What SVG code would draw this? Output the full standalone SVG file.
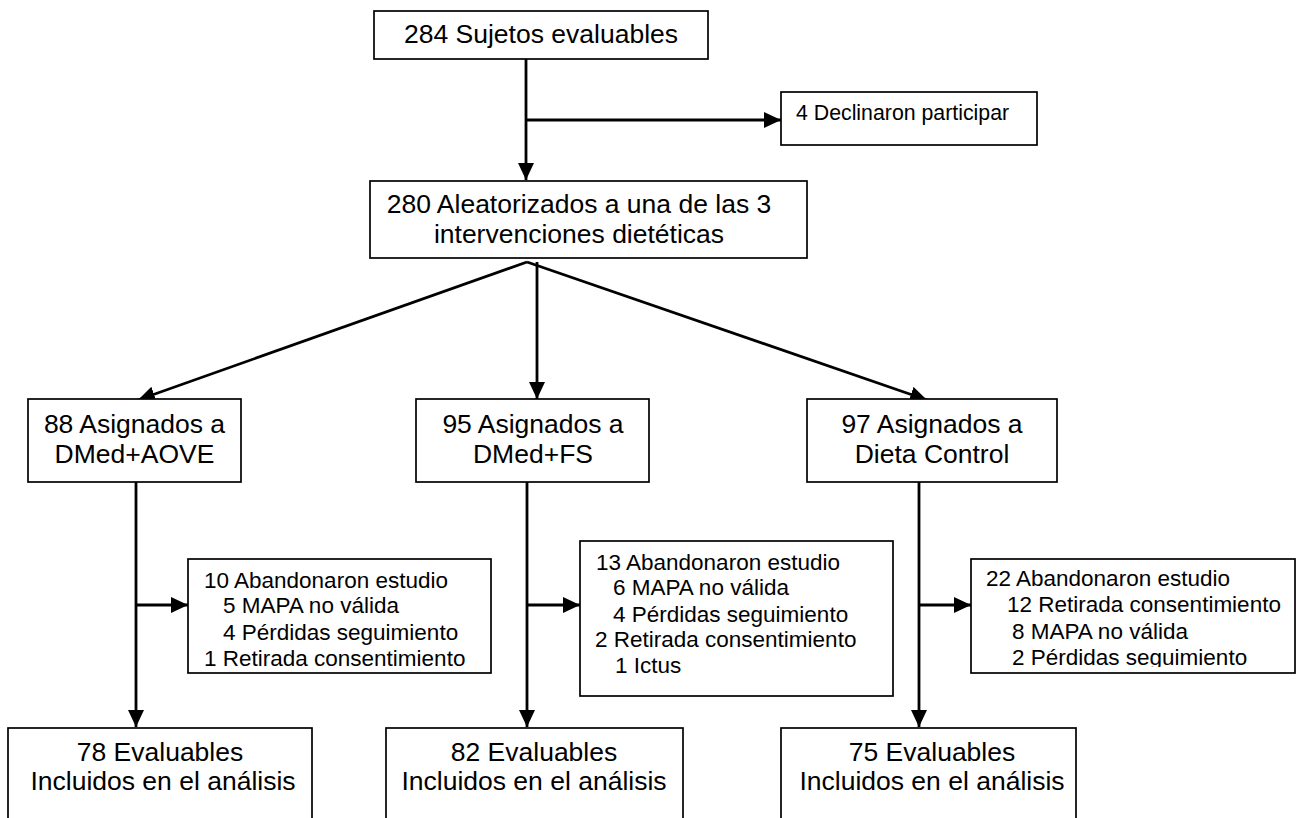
<svg xmlns="http://www.w3.org/2000/svg" width="1305" height="818" viewBox="0 0 1305 818">
<style>
.box{fill:#fff;stroke:#000;stroke-width:1.7}
.big{font-family:"Liberation Sans",Arial,sans-serif;font-size:26.5px;fill:#000;text-anchor:middle}
.mid{font-family:"Liberation Sans",Arial,sans-serif;font-size:22.5px;fill:#000}
.sm{font-family:"Liberation Sans",Arial,sans-serif;font-size:21.3px;fill:#000}
.ln{fill:none;stroke:#000;stroke-width:2.8;marker-end:url(#ah)}
</style>
<defs>
<marker id="ah" markerUnits="userSpaceOnUse" markerWidth="18" markerHeight="16" refX="17" refY="8" orient="auto">
<path d="M0,0 L17,8 L0,16 z" fill="#000"/>
</marker>
<clipPath id="c3"><rect x="971" y="559" width="324" height="108"/></clipPath>
</defs>
<rect width="1305" height="818" fill="#fff"/>
<g id="connectors">
<line class="ln" x1="526" y1="59" x2="526" y2="180"/>
<line class="ln" x1="526" y1="120" x2="781" y2="120"/>
<line class="ln" x1="527" y1="262" x2="138" y2="400"/>
<line class="ln" x1="527" y1="262" x2="927" y2="400"/>
<line class="ln" x1="537" y1="262" x2="537" y2="399"/>
<line class="ln" x1="136" y1="482" x2="136" y2="727"/>
<line class="ln" x1="136" y1="605" x2="188" y2="605"/>
<line class="ln" x1="527" y1="482" x2="527" y2="727"/>
<line class="ln" x1="527" y1="605" x2="580" y2="605"/>
<line class="ln" x1="919" y1="482" x2="919" y2="727"/>
<line class="ln" x1="919" y1="605" x2="971" y2="605"/>
</g>
<g id="n284">
<rect class="box" x="374" y="11" width="334" height="48"/>
<text class="big" x="541" y="43">284 Sujetos evaluables</text>
</g>
<g id="n4">
<rect class="box" x="781" y="92" width="256" height="53"/>
<text class="sm" x="796" y="120">4 Declinaron participar</text>
</g>
<g id="n280">
<rect class="box" x="370" y="181" width="437" height="77"/>
<text class="big" x="579" y="213">280 Aleatorizados a una de las 3</text>
<text class="big" x="579" y="243">intervenciones dietéticas</text>
</g>
<g id="n88">
<rect class="box" x="28" y="399" width="213" height="83"/>
<text class="big" x="134.5" y="433">88 Asignados a</text>
<text class="big" x="134.5" y="463">DMed+AOVE</text>
</g>
<g id="n95">
<rect class="box" x="416" y="399" width="233" height="83"/>
<text class="big" x="533" y="433">95 Asignados a</text>
<text class="big" x="533" y="463">DMed+FS</text>
</g>
<g id="n97">
<rect class="box" x="807" y="399" width="250" height="83"/>
<text class="big" x="932" y="433">97 Asignados a</text>
<text class="big" x="932" y="463">Dieta Control</text>
</g>
<g id="a1">
<rect class="box" x="188" y="559" width="303" height="114"/>
<text class="mid" x="204" y="588">10 Abandonaron estudio</text>
<text class="mid" x="223" y="613">5 MAPA no válida</text>
<text class="mid" x="223" y="640">4 Pérdidas seguimiento</text>
<text class="mid" x="204" y="666">1 Retirada consentimiento</text>
</g>
<g id="a2">
<rect class="box" x="580" y="541" width="313" height="155"/>
<text class="mid" x="596" y="570">13 Abandonaron estudio</text>
<text class="mid" x="613" y="595">6 MAPA no válida</text>
<text class="mid" x="613" y="622">4 Pérdidas seguimiento</text>
<text class="mid" x="595" y="647">2 Retirada consentimiento</text>
<text class="mid" x="615" y="673">1 Ictus</text>
</g>
<g id="a3">
<rect class="box" x="971" y="559" width="324" height="114"/>
<g clip-path="url(#c3)">
<text class="mid" x="986" y="586">22 Abandonaron estudio</text>
<text class="mid" x="1007" y="612">12 Retirada consentimiento</text>
<text class="mid" x="1012" y="639">8 MAPA no válida</text>
<text class="mid" x="1012" y="665">2 Pérdidas seguimiento</text>
</g>
</g>
<g id="e78">
<rect class="box" x="8" y="728" width="304" height="110"/>
<text class="big" x="160" y="761">78 Evaluables</text>
<text class="big" x="163" y="790">Incluidos en el análisis</text>
</g>
<g id="e82">
<rect class="box" x="386" y="728" width="297" height="110"/>
<text class="big" x="534" y="761">82 Evaluables</text>
<text class="big" x="534" y="790">Incluidos en el análisis</text>
</g>
<g id="e75">
<rect class="box" x="781" y="728" width="295" height="110"/>
<text class="big" x="932" y="761">75 Evaluables</text>
<text class="big" x="932" y="790">Incluidos en el análisis</text>
</g>
</svg>
